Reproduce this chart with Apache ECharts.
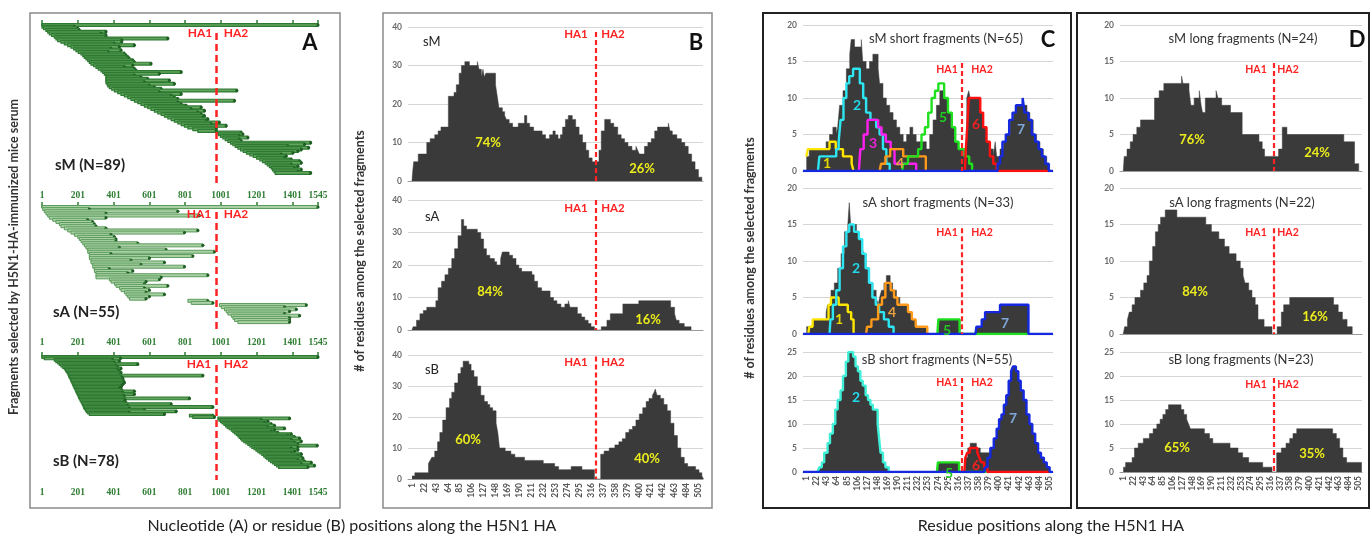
<!DOCTYPE html>
<html>
<head>
<meta charset="UTF-8">
<title>H5N1 HA fragments</title>
<script src="https://cdn.jsdelivr.net/npm/echarts@6/dist/echarts.min.js"></script>
<style>
  html, body { margin: 0; padding: 0; background: #fff; }
  #main { width: 1372px; height: 534px; }
</style>
</head>
<body>
<div id="main"></div>
<script>
// ---- tick labels ----
var nucleotideTicks = [1, 201, 401, 601, 801, 1001, 1201, 1401, 1545];
var residueTicks = [1, 22, 43, 64, 85, 106, 127, 148, 169, 190, 211, 232, 253, 274, 295, 316, 337, 358, 379, 400, 421, 442, 463, 484, 505];
var haBoundaryNt = 975;
var haBoundaryRes = 324;

// ---- panel A: fragments [start nt, end nt], one row each ----
var fragmentsSM = [[1,1545],[1,182],[10,201],[23,210],[33,359],[42,331],[55,359],[70,359],[79,705],[89,447],[107,447],[126,406],[145,518],[163,434],[178,387],[191,443],[204,373],[219,462],[229,471],[238,481],[247,490],[257,509],[266,518],[275,611],[290,509],[303,462],[316,518],[331,527],[341,780],[350,658],[359,518],[359,555],[359,593],[359,714],[359,574],[365,742],[369,602],[378,630],[391,668],[406,1091],[425,658],[443,780],[462,724],[481,742],[499,761],[518,1078],[537,761],[555,780],[574,808],[593,892],[611,836],[630,910],[649,873],[668,892],[686,910],[705,901],[724,929],[742,920],[761,994],[780,948],[798,1032],[817,976],[845,976],[873,976],[981,1116],[989,1125],[1000,1106],[1013,1153],[1026,1106],[1041,1116],[1056,1504],[1069,1470],[1082,1377],[1097,1493],[1112,1452],[1127,1433],[1145,1405],[1164,1340],[1183,1368],[1202,1358],[1220,1396],[1235,1442],[1250,1452],[1261,1396],[1273,1433],[1284,1414],[1291,1452],[1299,1433],[1306,1504]];
var fragmentsSA = [[1,1545],[5,266],[14,761],[23,359],[33,882],[42,359],[61,257],[79,285],[98,294],[107,303],[126,359],[145,873],[163,798],[182,387],[201,406],[210,415],[219,415],[229,537],[238,901],[247,434],[257,695],[257,966],[266,387],[266,845],[266,602],[275,499],[275,686],[285,555],[285,798],[294,378],[294,509],[303,481],[303,929],[303,668],[378,658],[387,583],[406,574],[415,705],[434,574],[443,602],[462,583],[471,686],[481,602],[490,583],[817,929],[836,957],[994,1480],[1004,1358],[1022,1424],[1032,1386],[1041,1358],[1060,1442],[1069,1386],[1078,1386],[1097,1386]];
var fragmentsSB = [[1,1545],[14,440],[70,397],[79,434],[89,406],[98,537],[107,415],[117,425],[126,443],[132,425],[137,434],[143,443],[147,440],[150,901],[154,447],[158,453],[162,453],[165,458],[169,462],[173,453],[176,447],[180,443],[184,434],[188,447],[191,518],[195,453],[199,518],[203,458],[206,462],[210,826],[214,466],[219,462],[223,471],[227,724],[231,481],[234,957],[238,490],[244,574],[249,752],[257,490],[266,686],[826,957],[845,966],[985,1386],[991,1228],[1000,1265],[1009,1246],[1019,1284],[1028,1302],[1037,1265],[1048,1358],[1060,1302],[1069,1284],[1078,1321],[1088,1396],[1097,1377],[1104,1414],[1112,1442],[1119,1396],[1130,1452],[1142,1414],[1153,1433],[1164,1541],[1175,1433],[1187,1396],[1198,1433],[1209,1414],[1220,1396],[1231,1452],[1241,1433],[1250,1452],[1259,1461],[1269,1433],[1280,1470],[1291,1508],[1302,1452],[1314,1526],[1325,1489]];

// ---- panel B: residues covered by all fragments, [residue, count] change points ----
var allSM = [[1,0],[2,2],[4,5],[12,7],[27,10],[33,11],[41,12],[47,13],[52,14],[65,22],[75,23],[79,25],[84,28],[88,30],[94,31],[102,30],[116,31],[119,29],[123,27],[126,29],[128,27],[131,28],[148,25],[151,22],[154,19],[160,18],[164,17],[167,16],[172,15],[178,14],[188,15],[199,17],[203,15],[208,14],[215,13],[230,12],[236,11],[243,12],[249,13],[253,12],[258,11],[262,12],[266,14],[271,16],[276,17],[283,16],[289,14],[295,12],[301,10],[307,8],[312,6],[318,5],[330,8],[334,13],[340,16],[350,15],[356,14],[363,12],[369,11],[375,10],[381,9],[388,8],[395,9],[398,8],[401,7],[410,9],[416,10],[422,11],[428,13],[433,14],[452,15],[455,13],[459,12],[467,11],[475,10],[481,9],[487,7],[493,5],[499,3],[505,1],[511,0]];
var allSA = [[1,0],[3,1],[9,3],[15,5],[21,6],[27,7],[43,9],[47,13],[53,15],[59,17],[65,19],[71,22],[76,25],[82,29],[88,34],[92,32],[97,31],[116,30],[122,28],[127,25],[132,23],[138,22],[146,21],[150,20],[157,22],[160,24],[172,23],[178,22],[184,20],[189,19],[194,18],[212,17],[216,15],[222,13],[229,12],[244,10],[250,9],[256,8],[263,7],[270,8],[276,9],[279,7],[292,5],[299,4],[305,3],[311,2],[316,1],[322,0],[334,1],[344,3],[350,5],[372,8],[400,9],[456,7],[463,5],[466,3],[471,2],[480,1],[492,0]];
var allSB = [[1,1],[6,2],[30,5],[33,6],[36,7],[41,9],[46,12],[50,15],[55,19],[61,23],[67,26],[71,28],[76,31],[82,34],[87,36],[91,38],[101,37],[105,35],[110,33],[116,30],[122,27],[128,25],[134,24],[138,23],[143,22],[149,18],[152,15],[155,10],[165,9],[175,8],[182,7],[199,6],[232,5],[252,4],[259,3],[281,4],[300,3],[322,0],[333,8],[339,9],[348,10],[358,11],[365,12],[371,13],[377,15],[383,16],[389,17],[395,19],[401,21],[407,23],[413,25],[418,26],[424,27],[427,28],[429,29],[432,27],[438,26],[444,24],[450,22],[456,18],[462,14],[468,10],[474,7],[480,5],[486,4],[500,3],[506,2],[511,1],[514,0]];

// ---- panel C: short fragments, total and clusters 1-7 ----
var shortSM = [[1,2],[7,3],[42,4],[49,5],[56,6],[63,5],[66,6],[70,9],[77,11],[84,14],[91,16],[94,18],[101,17],[115,18],[118,15],[125,14],[132,15],[139,16],[150,14],[153,12],[160,10],[167,9],[174,8],[181,7],[188,6],[195,5],[202,4],[209,5],[216,6],[222,5],[229,4],[250,3],[257,5],[264,7],[271,9],[278,11],[288,10],[295,8],[302,6],[309,4],[316,3],[327,2],[334,10],[338,11],[341,10],[362,8],[368,6],[375,4],[382,3],[389,2],[393,4],[396,2],[403,3],[410,4],[417,5],[424,7],[431,8],[438,9],[459,8],[465,7],[472,5],[479,4],[486,3],[493,2],[500,1],[506,0]];
var smCluster1 = [[1,2],[4,3],[49,4],[62,3],[77,2],[95,1],[99,0]];
var smCluster2 = [[25,0],[28,2],[63,3],[68,4],[72,7],[78,10],[84,12],[90,13],[98,14],[112,12],[119,10],[125,8],[134,7],[146,6],[153,5],[160,3],[167,1],[174,0]];
var smCluster3 = [[110,0],[113,3],[120,5],[128,7],[150,6],[157,5],[166,4],[176,3],[184,1],[222,1],[229,0]];
var smCluster4 = [[153,0],[156,1],[165,2],[175,3],[202,2],[249,0]];
var smCluster5 = [[200,0],[202,1],[212,2],[233,3],[240,5],[247,6],[254,8],[261,10],[268,11],[275,12],[287,10],[295,8],[303,6],[310,4],[317,3],[330,2],[339,1],[345,0]];
var smCluster6 = [[330,0],[332,3],[335,6],[338,10],[362,8],[368,6],[375,4],[382,2],[389,1],[396,0],[505,0]];
var smCluster7 = [[-6,0],[393,0],[398,1],[403,2],[408,4],[415,5],[422,7],[429,8],[436,9],[450,10],[454,8],[462,7],[469,5],[476,4],[483,3],[490,2],[497,1],[504,0],[513,0]];

var shortSA = [[1,1],[14,2],[42,3],[45,4],[52,6],[59,7],[66,9],[73,11],[80,14],[87,15],[90,18],[93,15],[105,14],[110,13],[116,12],[120,11],[125,9],[132,7],[139,6],[146,5],[150,4],[153,5],[157,6],[162,7],[167,8],[175,7],[180,6],[188,5],[195,4],[212,3],[220,2],[228,1],[250,0],[275,2],[320,0],[354,1],[365,2],[372,3],[403,4],[462,0]];
var saCluster1 = [[5,0],[7,1],[14,2],[47,4],[52,5],[68,4],[87,3],[94,2],[99,0]];
var saCluster2 = [[49,0],[51,2],[56,4],[63,6],[70,9],[77,12],[84,14],[90,15],[100,14],[110,13],[117,11],[124,9],[131,7],[138,5],[145,4],[152,3],[162,2],[172,1],[182,0]];
var saCluster4 = [[125,0],[127,1],[136,2],[150,4],[158,5],[165,7],[176,6],[183,5],[190,4],[212,3],[220,2],[228,1],[252,0]];
var saCluster5 = [[273,0],[275,2],[319,0],[460,0]];
var saCluster7 = [[-6,0],[352,0],[354,1],[365,2],[372,3],[403,4],[462,0],[513,0]];

var shortSB = [[1,0],[24,0],[28,1],[33,2],[38,4],[45,6],[50,8],[56,10],[61,13],[66,15],[72,17],[77,20],[83,23],[88,25],[98,24],[103,22],[108,21],[113,19],[118,18],[124,16],[129,15],[134,14],[139,13],[149,10],[152,7],[155,4],[160,2],[165,1],[172,0],[274,2],[318,0],[331,3],[336,5],[341,6],[354,5],[362,4],[383,5],[390,7],[396,9],[401,11],[406,12],[411,14],[416,16],[421,19],[426,21],[430,22],[436,21],[441,19],[446,17],[452,15],[458,12],[464,10],[470,8],[476,6],[482,4],[488,3],[494,2],[500,1],[506,0]];
var sbCluster2 = [[24,0],[28,1],[33,2],[38,4],[45,6],[50,8],[56,10],[61,13],[66,15],[72,17],[77,20],[83,23],[88,25],[98,24],[103,22],[108,21],[113,19],[118,18],[124,16],[129,15],[134,14],[139,13],[149,10],[152,7],[155,4],[160,2],[165,1],[172,0]];
var sbCluster5 = [[272,0],[274,2],[318,0],[375,0]];
var sbCluster6 = [[329,0],[331,3],[335,4],[340,5],[356,4],[360,3],[364,2],[370,1],[377,0],[505,0]];
var sbCluster7 = [[-6,0],[370,0],[372,1],[377,3],[383,5],[390,7],[396,9],[401,11],[406,12],[411,14],[416,16],[421,19],[426,21],[430,22],[436,21],[441,19],[446,17],[452,15],[458,12],[464,10],[470,8],[476,6],[482,4],[488,3],[494,2],[500,1],[506,0],[513,0]];

// ---- panel D: long fragments ----
var longSM = [[1,0],[3,2],[9,3],[16,4],[22,5],[30,6],[38,7],[68,10],[78,11],[88,12],[126,13],[129,12],[142,11],[146,9],[153,10],[164,11],[168,9],[171,8],[177,10],[200,11],[204,10],[212,9],[231,8],[256,5],[292,4],[299,3],[304,2],[334,3],[342,6],[352,5],[474,4],[497,1],[506,0]];
var longSA = [[1,0],[4,1],[10,2],[14,3],[20,4],[26,5],[38,6],[45,7],[52,8],[57,10],[64,12],[70,14],[76,15],[81,16],[91,17],[116,16],[178,15],[190,14],[206,13],[218,12],[228,11],[243,10],[252,9],[258,8],[262,7],[270,6],[277,5],[284,4],[290,2],[303,1],[320,0],[331,1],[340,3],[345,4],[358,5],[452,4],[462,3],[471,2],[481,1],[492,0]];
var longSB = [[1,1],[6,2],[20,3],[25,5],[33,6],[44,7],[57,8],[65,9],[73,10],[80,11],[86,12],[92,13],[98,14],[125,13],[131,12],[137,11],[141,10],[145,9],[175,8],[186,7],[193,6],[230,5],[247,4],[257,3],[270,2],[300,1],[320,0],[330,4],[340,5],[350,6],[358,7],[365,8],[373,9],[450,8],[458,7],[465,5],[472,3],[480,2],[512,0]];

// ---------------------------------------------------------------
var chart = echarts.init(document.getElementById('main'));
var FONT = 'Lato, "Open Sans", sans-serif';
var RED = '#ff2323';
var AREA = '#3a3a3a';
var GREEN = '#2e7d32';

var grids = [
  // panel A
  { left: 42, top: 25, width: 276, height: 158 },
  { left: 42, top: 207, width: 276, height: 123 },
  { left: 42, top: 357, width: 276, height: 123 },
  // panel B
  { left: 408, top: 27, width: 295, height: 154 },
  { left: 408, top: 200, width: 295, height: 130 },
  { left: 408, top: 355, width: 295, height: 124 },
  // panel C
  { left: 803, top: 25, width: 250, height: 146 },
  { left: 803, top: 188, width: 250, height: 146 },
  { left: 803, top: 352, width: 250, height: 120 },
  // panel D
  { left: 1120, top: 25, width: 242, height: 146 },
  { left: 1120, top: 188, width: 242, height: 146 },
  { left: 1120, top: 352, width: 242, height: 120 }
];

var xAxes = [], yAxes = [];
var rowMax = [94, 57.7, 86.1];
for (var i = 0; i < 3; i++) {
  xAxes.push({
    gridIndex: i, type: 'value', min: 1, max: 1545,
    splitLine: { show: false },
    axisLine: { lineStyle: { color: GREEN, width: 2 } },
    axisTick: { show: true, inside: true, length: 5, customValues: nucleotideTicks,
      lineStyle: { color: GREEN, width: 1.5 } },
    axisLabel: { customValues: nucleotideTicks, color: GREEN, fontFamily: 'Liberation Serif',
      fontWeight: 'bold', fontSize: 9.5, margin: 8,
      formatter: function (v) { return String(v); } }
  });
  yAxes.push({ gridIndex: i, type: 'value', inverse: true, min: 0, max: rowMax[i], show: false });
}
var yMax = [40, 40, 40, 20, 20, 25, 20, 20, 25];
for (var g = 3; g < 12; g++) {
  var bottom = (g === 5 || g === 8 || g === 11);
  xAxes.push({
    gridIndex: g, type: 'value', min: -6, max: 513,
    splitLine: { show: false },
    axisLine: { lineStyle: { color: '#9a9a9a', width: 1 } },
    axisTick: { show: false },
    axisLabel: bottom ? { customValues: residueTicks, rotate: 90, fontSize: 8.5,
      fontWeight: 'bold', color: '#555', fontFamily: FONT, margin: 4,
      formatter: function (v) { return String(v); } } : { show: false }
  });
  var m = yMax[g - 3];
  yAxes.push({
    gridIndex: g, type: 'value', min: 0, max: m, interval: m === 40 ? 10 : 5,
    axisLine: { show: false }, axisTick: { show: false },
    splitLine: { lineStyle: { color: '#d6d6d6', width: 1 } },
    axisLabel: { fontSize: 8.5, fontWeight: 'bold', color: '#6a6a6a', fontFamily: FONT, margin: 6 }
  });
}

function fragmentRender(h, fill, stroke, lw) {
  return function (params, api) {
    var a = api.coord([api.value(0), api.value(2)]);
    var b = api.coord([api.value(1), api.value(2)]);
    return {
      type: 'group',
      children: [
        { type: 'rect', shape: { x: a[0], y: a[1] - h / 2, width: b[0] - a[0], height: h },
          style: { fill: fill, stroke: stroke, lineWidth: lw } },
        { type: 'circle', shape: { cx: b[0], cy: b[1], r: 1.6 }, style: { fill: '#1e5e22' } }
      ]
    };
  };
}

function haLine(x, yTop, yBottom, width, dash) {
  return {
    silent: true, symbol: ['none', 'none'], label: { show: false },
    lineStyle: { color: RED, type: dash, width: width },
    data: [[{ coord: [x, yTop] }, { coord: [x, yBottom] }]]
  };
}

var series = [];
var fragSets = [fragmentsSM, fragmentsSA, fragmentsSB];
var fragStyle = [[2.8, '#62a65e', '#2f7a33', 1.2], [3, '#a9d0a4', '#5c9c5c', 1], [2.6, '#62a65e', '#2f7a33', 1.2]];
var fragTop = [4.8, 2.3, 5.6];
fragSets.forEach(function (set, i) {
  var st = fragStyle[i];
  series.push({
    type: 'custom', xAxisIndex: i, yAxisIndex: i,
    renderItem: fragmentRender(st[0], st[1], st[2], st[3]),
    encode: { x: [0, 1], y: 2 },
    data: set.map(function (f, k) { return [f[0], f[1], k]; }),
    markLine: haLine(haBoundaryNt, fragTop[i], rowMax[i], 2.5, [7, 4])
  });
});

function areaSeries(idx, data, topVal) {
  return {
    type: 'line', xAxisIndex: idx, yAxisIndex: idx, step: 'end', symbol: 'none',
    data: data, lineStyle: { width: 0.5, color: AREA }, areaStyle: { color: AREA, opacity: 1 },
    markLine: haLine(haBoundaryRes, topVal, 0, 2.2, [5, 3])
  };
}
function outline(idx, data, color) {
  return {
    type: 'line', xAxisIndex: idx, yAxisIndex: idx, step: 'end', symbol: 'none',
    data: data, lineStyle: { width: 2.4, color: color }
  };
}

series.push(areaSeries(3, allSM, 38.7));
series.push(areaSeries(4, allSA, 40));
series.push(areaSeries(5, allSB, 39.5));

series.push(areaSeries(6, shortSM, 14.8));
series.push(outline(6, smCluster1, '#ffe600'));
series.push(outline(6, smCluster2, '#2ee6f2'));
series.push(outline(6, smCluster3, '#ff1ff0'));
series.push(outline(6, smCluster4, '#ff9a1a'));
series.push(outline(6, smCluster5, '#1fe01f'));
series.push(outline(6, smCluster6, '#ff1010'));
series.push(outline(6, smCluster7, '#1428e0'));

series.push(areaSeries(7, shortSA, 14.5));
series.push(outline(7, saCluster1, '#ffe600'));
series.push(outline(7, saCluster2, '#2ee6f2'));
series.push(outline(7, saCluster4, '#ff9a1a'));
series.push(outline(7, saCluster5, '#1fe01f'));
series.push(outline(7, saCluster7, '#1428e0'));

series.push(areaSeries(8, shortSB, 19.6));
series.push(outline(8, sbCluster2, '#3ff0d8'));
series.push(outline(8, sbCluster5, '#1fe01f'));
series.push(outline(8, sbCluster6, '#ff1010'));
series.push(outline(8, sbCluster7, '#1428e0'));

series.push(areaSeries(9, longSM, 14.8));
series.push(areaSeries(10, longSA, 14.5));
series.push(areaSeries(11, longSB, 19.6));

// ---- texts and frames ----
function txt(x, y, s, font, fill, align, rot) {
  return {
    type: 'text', x: x, y: y, rotation: rot || 0, z: 100, silent: true,
    style: { text: s, font: font, fill: fill, textAlign: align || 'center', textVerticalAlign: 'middle' }
  };
}
function box(x, y, w, h, stroke, lw) {
  return { type: 'rect', z: 90, silent: true, shape: { x: x, y: y, width: w, height: h },
    style: { fill: 'none', stroke: stroke, lineWidth: lw } };
}
var yellow = '#ecec1c';
var haA = 'bold 12px ' + FONT, haB = 'bold 11.5px ' + FONT, haC = 'bold 10.5px ' + FONT;
var pct = 'bold 13px ' + FONT;
var sub = '13px ' + FONT;
var num = 'bold 14px ' + FONT;
var graphics = [
  box(30, 13, 310, 495, '#8a8a8a', 1.5),
  box(383, 13, 329, 495, '#8a8a8a', 1.5),
  box(763, 13, 308, 495, '#222', 2),
  box(1077, 13, 292, 495, '#222', 2),

  txt(310, 43, 'A', 'bold 22px ' + FONT, '#111'),
  txt(696, 43, 'B', 'bold 22px ' + FONT, '#111'),
  txt(1048, 40, 'C', 'bold 22px ' + FONT, '#111'),
  txt(1357, 40, 'D', 'bold 22px ' + FONT, '#111'),

  txt(14, 257, 'Fragments selected by H5N1-HA-immunized mice serum', 'bold 12.5px ' + FONT, '#333', 'center', Math.PI / 2),
  txt(360, 251, '# of residues among the selected fragments', 'bold 12.5px ' + FONT, '#333', 'center', Math.PI / 2),
  txt(750, 258, '# of residues among the selected fragments', 'bold 12.5px ' + FONT, '#333', 'center', Math.PI / 2),
  txt(352, 526, 'Nucleotide (A) or residue (B) positions along the H5N1 HA', '16px ' + FONT, '#222'),
  txt(1051, 526, 'Residue positions along the H5N1 HA', '16px ' + FONT, '#222'),

  // panel A
  txt(55, 165, 'sM (N=89)', 'bold 15px ' + FONT, '#222', 'left'),
  txt(53, 312, 'sA (N=55)', 'bold 15px ' + FONT, '#222', 'left'),
  txt(53, 461, 'sB (N=78)', 'bold 15px ' + FONT, '#222', 'left'),
  txt(200, 33, 'HA1', haA, RED), txt(236, 33, 'HA2', haA, RED),
  txt(199, 214, 'HA1', haA, RED), txt(236, 214, 'HA2', haA, RED),
  txt(199, 364, 'HA1', haA, RED), txt(236, 364, 'HA2', haA, RED),

  // panel B
  txt(423, 42, 'sM', sub, '#222', 'left'),
  txt(425, 217, 'sA', sub, '#222', 'left'),
  txt(425, 370, 'sB', sub, '#222', 'left'),
  txt(576, 34, 'HA1', haB, RED), txt(613, 34, 'HA2', haB, RED),
  txt(576, 208, 'HA1', haB, RED), txt(613, 208, 'HA2', haB, RED),
  txt(576, 362, 'HA1', haB, RED), txt(613, 362, 'HA2', haB, RED),
  txt(488, 143, '74%', pct, yellow), txt(642, 169, '26%', pct, yellow),
  txt(490, 292, '84%', pct, yellow), txt(648, 320, '16%', pct, yellow),
  txt(468, 440, '60%', pct, yellow), txt(647, 459, '40%', pct, yellow),

  // panel C
  txt(946, 39, 'sM short fragments (N=65)', sub, '#333'),
  txt(938, 203, 'sA short fragments (N=33)', sub, '#333'),
  txt(937, 360, 'sB short fragments (N=55)', sub, '#333'),
  txt(947, 70, 'HA1', haC, RED), txt(982, 70, 'HA2', haC, RED),
  txt(947, 233, 'HA1', haC, RED), txt(982, 233, 'HA2', haC, RED),
  txt(947, 383, 'HA1', haC, RED), txt(982, 383, 'HA2', haC, RED),
  txt(827, 163, '1', num, '#e6d800'), txt(857, 105, '2', num, '#22d8e8'),
  txt(873, 143, '3', num, '#ee22dd'), txt(900, 163, '4', num, '#e8a040'),
  txt(943, 117, '5', num, '#22cc22'), txt(976, 124, '6', num, '#ee2222'),
  txt(1021, 129, '7', num, '#7fa6d8'),
  txt(839, 319, '1', num, '#e6d800'), txt(856, 268, '2', num, '#22d8e8'),
  txt(892, 312, '4', num, '#e8a040'), txt(947, 330, '5', num, '#22cc22'),
  txt(1005, 323, '7', num, '#7fa6d8'),
  txt(856, 397, '2', num, '#22d8e8'), txt(949, 473, '5', num, '#22cc22'),
  txt(976, 465, '6', num, '#ee2222'), txt(1013, 418, '7', num, '#7fa6d8'),

  // panel D
  txt(1243, 39, 'sM long fragments (N=24)', sub, '#333'),
  txt(1242, 203, 'sA long fragments (N=22)', sub, '#333'),
  txt(1241, 360, 'sB long fragments (N=23)', sub, '#333'),
  txt(1256, 70, 'HA1', haC, RED), txt(1288, 70, 'HA2', haC, RED),
  txt(1256, 233, 'HA1', haC, RED), txt(1288, 233, 'HA2', haC, RED),
  txt(1256, 385, 'HA1', haC, RED), txt(1288, 385, 'HA2', haC, RED),
  txt(1192, 140, '76%', pct, yellow), txt(1317, 153, '24%', pct, yellow),
  txt(1195, 292, '84%', pct, yellow), txt(1315, 317, '16%', pct, yellow),
  txt(1177, 448, '65%', pct, yellow), txt(1312, 454, '35%', pct, yellow)
];

chart.setOption({
  animation: false,
  backgroundColor: '#fff',
  textStyle: { fontFamily: FONT },
  grid: grids,
  xAxis: xAxes,
  yAxis: yAxes,
  series: series,
  graphic: { elements: graphics }
});
</script>
</body>
</html>
